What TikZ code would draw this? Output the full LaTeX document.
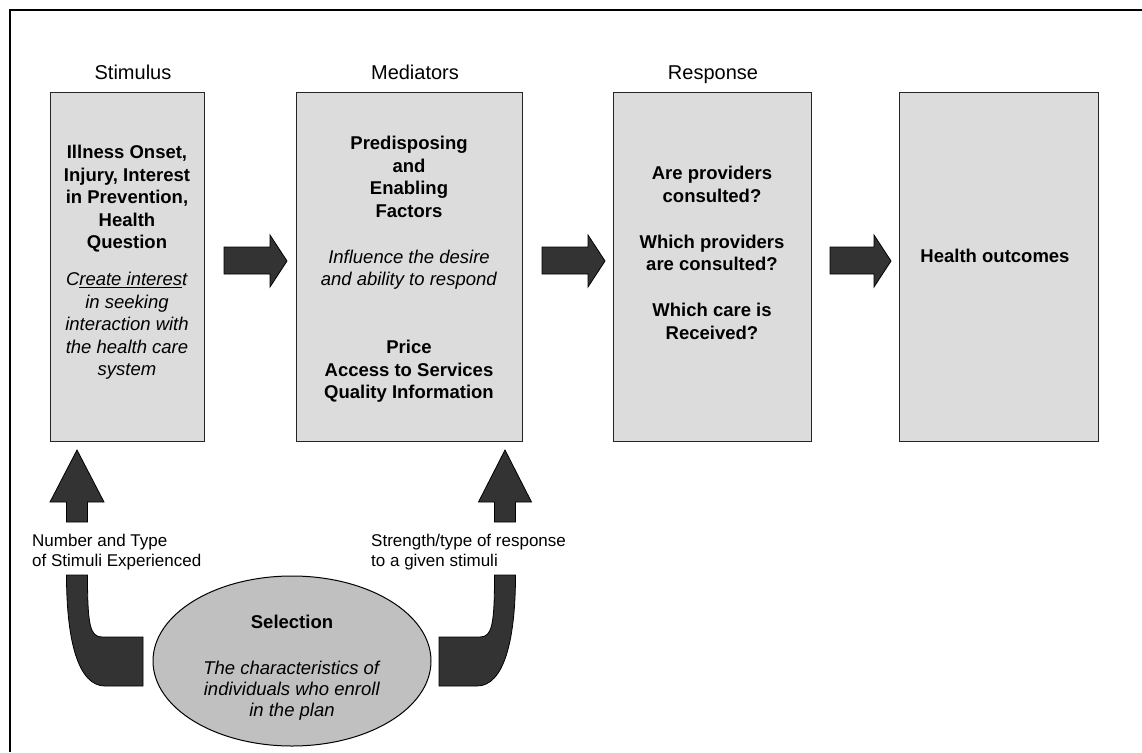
\documentclass[tikz,border=0pt]{standalone}
\usepackage{fontspec}
\setmainfont{Liberation Sans}
\usetikzlibrary{shapes.geometric}
\definecolor{boxgray}{RGB}{220,220,220}
\definecolor{ellgray}{RGB}{192,192,192}
\definecolor{arrowdark}{RGB}{51,51,51}
\begin{document}
\begin{tikzpicture}[x=1pt,y=-1pt,
  stagebox/.style={draw=black!85, line width=1pt, fill=boxgray, inner sep=0pt,
    minimum width=#1, minimum height=349pt},
  boxtext/.style={align=center, inner sep=0pt, anchor=north,
    font=\fontsize{18.5}{22.5}\selectfont},
  header/.style={inner sep=0pt, anchor=base, font=\fontsize{20}{24}\selectfont},
  sidelabel/.style={align=left, inner sep=0pt, anchor=north west,
    font=\fontsize{17}{20}\selectfont},
  blockarrow/.style={fill=arrowdark, draw=black, line width=0.8pt, line join=miter},
  selection/.style={ellipse, draw=black, line width=1pt, fill=ellgray,
    minimum width=278pt, minimum height=170pt, inner sep=0pt}]

\useasboundingbox (0,0) rectangle (1142,752);
\fill[white] (0,0) rectangle (1142,752);
% page frame
\draw[line width=1.3pt] (10,752) -- (10,10) -- (1142,10);

% column headings
\node[header] (hstim) at (133,79) {Stimulus};
\node[header] (hmed)  at (415,79) {Mediators};
\node[header] (hresp) at (713,79) {Response};

% the four stages
\node[stagebox=154pt] (stim) at (127,266.5) {};
\node[stagebox=226pt] (med)  at (409,266.5) {};
\node[stagebox=198pt] (resp) at (712,266.5) {};
\node[stagebox=199pt] (out)  at (998.5,266.5) {};

\node[boxtext] (stimtxt) at (127,145) {%
  \textbf{Illness Onset,}\\
  \textbf{Injury, Interest}\\
  \textbf{in Prevention,}\\
  \textbf{Health}\\
  \textbf{Question}\\[14.5pt]
  \textit{C\underline{reate interes}t}\\
  \textit{in seeking}\\
  \textit{interaction with}\\
  \textit{the health care}\\
  \textit{system}};

\node[boxtext] (medtxt) at (409,136) {%
  \textbf{Predisposing}\\
  \textbf{and}\\
  \textbf{Enabling}\\
  \textbf{Factors}\\[23.5pt]
  \textit{Influence the desire}\\
  \textit{and ability to respond}\\[45.5pt]
  \textbf{Price}\\
  \textbf{Access to Services}\\
  \textbf{Quality Information}};

\node[boxtext] (resptxt) at (712,166) {%
  \textbf{Are providers}\\
  \textbf{consulted?}\\[23.5pt]
  \textbf{Which providers}\\
  \textbf{are consulted?}\\[23.5pt]
  \textbf{Which care is}\\
  \textbf{Received?}};

\node[boxtext] (outtxt) at (995,249) {\textbf{Health outcomes}};

% block arrows between the stages
\draw[blockarrow] (224,247) -- (270,247) -- (270,235) -- (287,261)
  -- (270,287) -- (270,274) -- (224,274) -- cycle;
\draw[blockarrow] (542,247) -- (588,247) -- (588,235) -- (605,261)
  -- (588,287) -- (588,274) -- (542,274) -- cycle;
\draw[blockarrow] (830,247) -- (874,247) -- (874,235) -- (891,261)
  -- (874,287) -- (874,274) -- (830,274) -- cycle;

% upward arrows into the first two stages
\draw[blockarrow] (66.5,522) -- (66.5,502) -- (50,502) -- (77,450)
  -- (104,502) -- (87.5,502) -- (87.5,522) -- cycle;
\draw[blockarrow] (494.5,522) -- (494.5,502) -- (478.5,502) -- (505,450)
  -- (531.5,502) -- (515.5,502) -- (515.5,522) -- cycle;

% curved feeds out of the selection ellipse
\draw[blockarrow] (66.5,575) -- (87.5,575)
  .. controls (87.5,625) and (90,637) .. (102,637) -- (143,637) -- (143,686)
  -- (105,686) .. controls (78,686) and (66.5,640) .. (66.5,575) -- cycle;
\draw[blockarrow] (515.5,575) -- (494.5,575)
  .. controls (494.5,625) and (492,637) .. (480,637) -- (439,637) -- (439,686)
  -- (477,686) .. controls (504,686) and (515.5,640) .. (515.5,575) -- cycle;

\node[sidelabel] (numlbl) at (32,533.5) {Number and Type\\of Stimuli Experienced};
\node[sidelabel] (strlbl) at (371,533.5) {Strength/type of response\\to a given stimuli};

% selection
\node[selection] (sel) at (292,661) {};
\node[boxtext, font=\fontsize{18.5}{21}\selectfont] (seltxt) at (292,615) {%
  \textbf{Selection}\\[25pt]
  \textit{The characteristics of}\\
  \textit{individuals who enroll}\\
  \textit{in the plan}};
\end{tikzpicture}
\end{document}
